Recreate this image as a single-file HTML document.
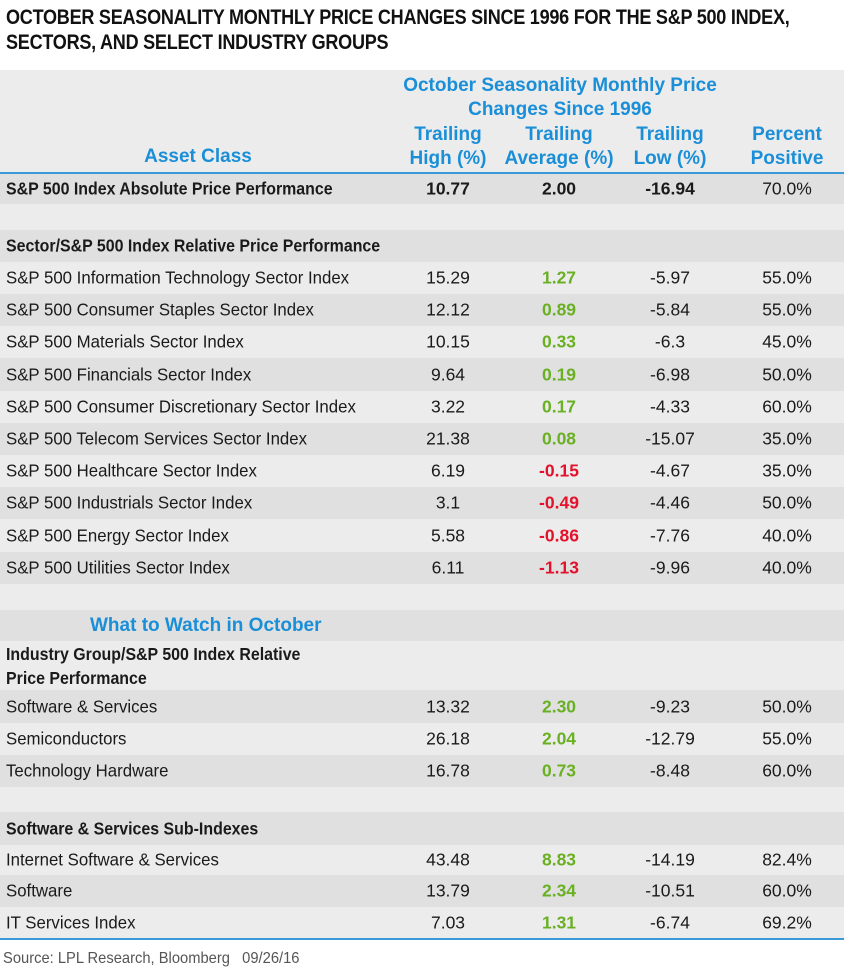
<!DOCTYPE html>
<html><head><meta charset="utf-8"><style>
body{margin:0;width:844px;height:972px;background:#fff;overflow:hidden;font-family:"Liberation Sans Narrow","Liberation Sans",sans-serif;color:#1a1a1a;position:relative}
.t{position:absolute;left:6px;font-weight:bold;font-size:21px;letter-spacing:-0.3px;transform:scaleX(0.86);transform-origin:left;white-space:nowrap;color:#111}
.r{position:absolute;left:0;width:844px}
.d{background:#e0e0e0}.l{background:#ececec}
.c{position:absolute;font-size:17.5px;white-space:nowrap;top:50%;transform:translateY(-50%)}
.lab{left:6px;transform:translateY(-50%) scaleX(0.96);transform-origin:left center}
.lab.b{transform:translateY(-50%) scaleX(0.91)}
.n{width:100px;text-align:center}
.c1{left:398px}.c2{left:509px}.c3{left:620px}.c4{left:737px}
.b{font-weight:bold}
.g{color:#6ab023;font-weight:bold}.rd{color:#e4112c;font-weight:bold}
.blue{color:#1a8fd8;font-weight:bold;font-size:19px}
.line{position:absolute;left:0;width:844px;height:2px;background:#3a9ad9}
</style></head><body>
<div class="t" style="top:6px">OCTOBER SEASONALITY MONTHLY PRICE CHANGES SINCE 1996 FOR THE S&amp;P 500 INDEX,</div>
<div class="t" style="top:31px">SECTORS, AND SELECT INDUSTRY GROUPS</div>

<div class="r l" style="top:70px;height:102px">
  <div class="blue" style="position:absolute;left:400px;width:320px;top:4px;text-align:center;line-height:24px">October Seasonality Monthly Price<br>Changes Since 1996</div>
  <div class="blue" style="position:absolute;left:98px;width:200px;text-align:center;top:76px">Asset Class</div>
  <div class="blue n" style="position:absolute;left:398px;top:53px;line-height:24px">Trailing<br>High (%)</div>
  <div class="blue n" style="position:absolute;left:499px;width:120px;top:53px;line-height:24px">Trailing<br>Average (%)</div>
  <div class="blue n" style="position:absolute;left:620px;top:53px;line-height:24px">Trailing<br>Low (%)</div>
  <div class="blue n" style="position:absolute;left:737px;top:53px;line-height:24px">Percent<br>Positive</div>
</div>
<div class="line" style="top:172px"></div>

<div class="r d" style="top:174px;height:30px">
<span class="c lab b">S&amp;P 500 Index Absolute Price Performance</span><span class="c n c1 b">10.77</span><span class="c n c2 b">2.00</span><span class="c n c3 b">-16.94</span><span class="c n c4">70.0%</span></div>
<div class="r l" style="top:204px;height:26px"></div>
<div class="r d" style="top:230px;height:32px"><span class="c lab b">Sector/S&amp;P 500 Index Relative Price Performance</span></div>

<div class="r l" style="top:262px;height:32px"><span class="c lab">S&amp;P 500 Information Technology Sector Index</span><span class="c n c1">15.29</span><span class="c n c2 g">1.27</span><span class="c n c3">-5.97</span><span class="c n c4">55.0%</span></div>
<div class="r d" style="top:294px;height:32px"><span class="c lab">S&amp;P 500 Consumer Staples Sector Index</span><span class="c n c1">12.12</span><span class="c n c2 g">0.89</span><span class="c n c3">-5.84</span><span class="c n c4">55.0%</span></div>
<div class="r l" style="top:326px;height:32px"><span class="c lab">S&amp;P 500 Materials Sector Index</span><span class="c n c1">10.15</span><span class="c n c2 g">0.33</span><span class="c n c3">-6.3</span><span class="c n c4">45.0%</span></div>
<div class="r d" style="top:358px;height:33px"><span class="c lab">S&amp;P 500 Financials Sector Index</span><span class="c n c1">9.64</span><span class="c n c2 g">0.19</span><span class="c n c3">-6.98</span><span class="c n c4">50.0%</span></div>
<div class="r l" style="top:391px;height:32px"><span class="c lab">S&amp;P 500 Consumer Discretionary Sector Index</span><span class="c n c1">3.22</span><span class="c n c2 g">0.17</span><span class="c n c3">-4.33</span><span class="c n c4">60.0%</span></div>
<div class="r d" style="top:423px;height:32px"><span class="c lab">S&amp;P 500 Telecom Services Sector Index</span><span class="c n c1">21.38</span><span class="c n c2 g">0.08</span><span class="c n c3">-15.07</span><span class="c n c4">35.0%</span></div>
<div class="r l" style="top:455px;height:32px"><span class="c lab">S&amp;P 500 Healthcare Sector Index</span><span class="c n c1">6.19</span><span class="c n c2 rd">-0.15</span><span class="c n c3">-4.67</span><span class="c n c4">35.0%</span></div>
<div class="r d" style="top:487px;height:32px"><span class="c lab">S&amp;P 500 Industrials Sector Index</span><span class="c n c1">3.1</span><span class="c n c2 rd">-0.49</span><span class="c n c3">-4.46</span><span class="c n c4">50.0%</span></div>
<div class="r l" style="top:519px;height:33px"><span class="c lab">S&amp;P 500 Energy Sector Index</span><span class="c n c1">5.58</span><span class="c n c2 rd">-0.86</span><span class="c n c3">-7.76</span><span class="c n c4">40.0%</span></div>
<div class="r d" style="top:552px;height:32px"><span class="c lab">S&amp;P 500 Utilities Sector Index</span><span class="c n c1">6.11</span><span class="c n c2 rd">-1.13</span><span class="c n c3">-9.96</span><span class="c n c4">40.0%</span></div>
<div class="r l" style="top:584px;height:26px"></div>
<div class="r d" style="top:610px;height:31px"><span class="c blue" style="left:90px">What to Watch in October</span></div>
<div class="r l" style="top:641px;height:49px"><span class="c lab b" style="line-height:24px">Industry Group/S&amp;P 500 Index Relative<br>Price Performance</span></div>
<div class="r d" style="top:690px;height:33px"><span class="c lab">Software &amp; Services</span><span class="c n c1">13.32</span><span class="c n c2 g">2.30</span><span class="c n c3">-9.23</span><span class="c n c4">50.0%</span></div>
<div class="r l" style="top:723px;height:32px"><span class="c lab">Semiconductors</span><span class="c n c1">26.18</span><span class="c n c2 g">2.04</span><span class="c n c3">-12.79</span><span class="c n c4">55.0%</span></div>
<div class="r d" style="top:755px;height:32px"><span class="c lab">Technology Hardware</span><span class="c n c1">16.78</span><span class="c n c2 g">0.73</span><span class="c n c3">-8.48</span><span class="c n c4">60.0%</span></div>
<div class="r l" style="top:787px;height:25px"></div>
<div class="r d" style="top:812px;height:33px"><span class="c lab b">Software &amp; Services Sub-Indexes</span></div>
<div class="r l" style="top:845px;height:30px"><span class="c lab">Internet Software &amp; Services</span><span class="c n c1">43.48</span><span class="c n c2 g">8.83</span><span class="c n c3">-14.19</span><span class="c n c4">82.4%</span></div>
<div class="r d" style="top:875px;height:32px"><span class="c lab">Software</span><span class="c n c1">13.79</span><span class="c n c2 g">2.34</span><span class="c n c3">-10.51</span><span class="c n c4">60.0%</span></div>
<div class="r l" style="top:907px;height:32px"><span class="c lab">IT Services Index</span><span class="c n c1">7.03</span><span class="c n c2 g">1.31</span><span class="c n c3">-6.74</span><span class="c n c4">69.2%</span></div>
<div class="line" style="top:938px"></div>
<div style="position:absolute;left:3px;top:950px;font-size:16px;color:#555;white-space:nowrap;transform:scaleX(0.92);transform-origin:left">Source: LPL Research, Bloomberg &nbsp; 09/26/16</div>
</body></html>
